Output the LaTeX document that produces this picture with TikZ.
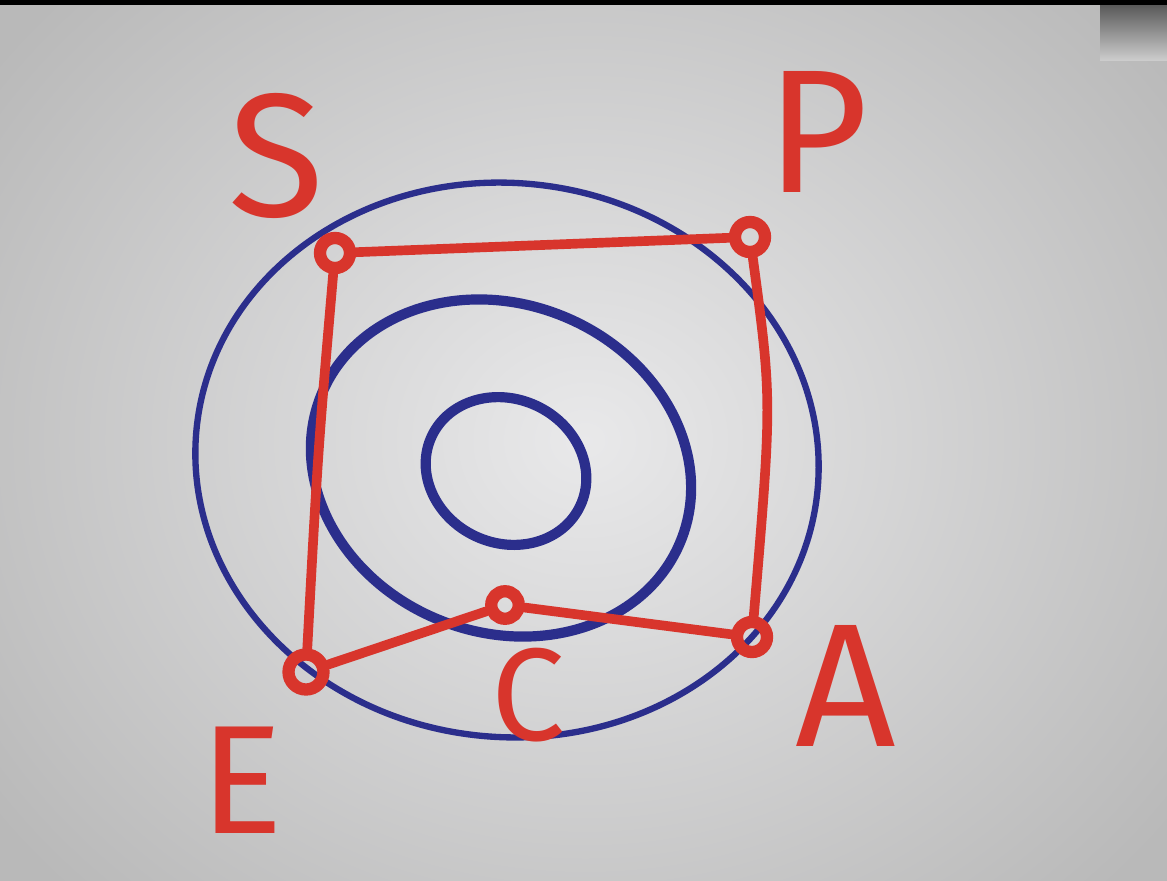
\documentclass[tikz,border=0pt]{standalone}
\usepackage{fontspec}
\setmainfont{Fira Sans}
\definecolor{marker}{HTML}{D8352C}
\definecolor{ink}{HTML}{2B2E8C}
\definecolor{paperc}{HTML}{DADADC}
\begin{document}
\begin{tikzpicture}[x=0.02cm,y=-0.02cm,
  vtx/.style={circle,draw=marker,line width=7pt,minimum size=0.6cm,inner sep=0pt},
  redline/.style={draw=marker,line width=5.5pt,line cap=round,line join=round},
  blueline/.style={draw=ink,line cap=round},
  letter/.style={text=marker,font=\fontsize{100}{100}\selectfont,inner sep=0pt}]
\useasboundingbox (0,0) rectangle (1167,880);
% paper
\shade[inner color=paperc!60!white,outer color=gray!55] (-150,-200) rectangle (1320,1080);
\fill[black] (0,0) rectangle (1167,5);
\shade[top color=gray!70!black,bottom color=gray!40] (1100,5) rectangle (1167,60);
% blue ellipses
\draw[blueline,line width=3.6pt,rotate around={-6:(507,460)}] (507,460) ellipse [x radius=312,y radius=277];
\draw[blueline,line width=5.8pt,rotate around={-22:(501,468)}] (501,468) ellipse [x radius=194,y radius=164];
\draw[blueline,line width=5.8pt,rotate around={-25:(506,471)}] (506,471) ellipse [x radius=82,y radius=72];
% vertices
\node[vtx] (S) at (335,253) {};
\node[vtx] (P) at (750,237) {};
\node[vtx] (A) at (752,637) {};
\node[vtx,minimum size=0.55cm] (C) at (505,605) {};
\node[vtx,minimum size=0.7cm] (E) at (306,672) {};
\draw[redline] (S) -- (P);
\draw[redline] (P) .. controls (772,400) .. (A);
\draw[redline] (A) -- (C);
\draw[redline] (C) -- (E);
\draw[redline] (E) .. controls (318,450) .. (S);
% labels
\node[letter] (lS) at (276,156) {S};
\node[letter] (lP) at (818,132) {P};
\node[letter] (lA) at (846,686) {A};
\node[letter,font=\fontsize{75}{75}\selectfont] (lC) at (528,695) {C};
\node[letter,font=\fontsize{88}{88}\selectfont] (lE) at (242,780) {E};
\end{tikzpicture}
\end{document}
